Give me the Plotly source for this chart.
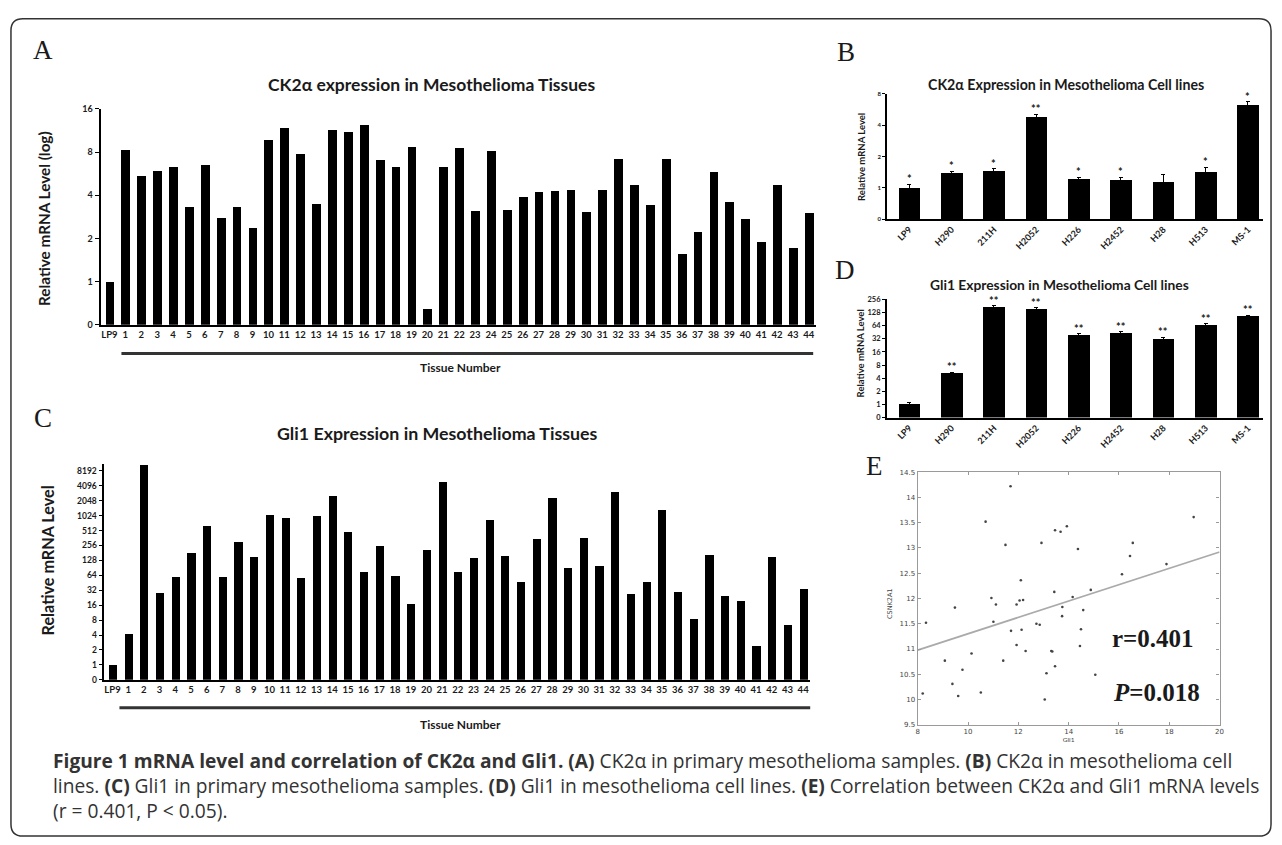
import math
import plotly.graph_objects as go

W, H = 1282, 845

# ---------------- data ----------------
tissue_labels = ["LP9"] + [str(i) for i in range(1, 45)]
ck2a_tissue = [1.0, 8.3, 5.45, 5.9, 6.3, 3.34, 6.55, 2.8, 3.34, 2.37, 9.8, 11.7, 7.8, 3.46,
               11.4, 11.1, 12.3, 7.1, 6.3, 8.75, 0.65, 6.27, 8.6, 3.12, 8.14, 3.15, 3.91,
               4.22, 4.27, 4.38, 3.07, 4.34, 7.12, 4.72, 3.43, 7.15, 1.55, 2.21, 5.79, 3.61,
               2.72, 1.9, 4.72, 1.72, 3.0]
gli1_tissue = [1.0, 4.12, 10500, 27.9, 59.9, 177, 639, 58, 306, 152, 1055, 909, 57, 1010,
               2520, 478, 75, 244, 62.7, 17, 205, 4800, 73, 143, 816, 154, 46, 336, 2300,
               87.6, 357, 97.5, 3080, 26.6, 46, 1330, 28.8, 8.2, 167, 24.6, 19.6, 2.35, 150,
               6.4, 33.4]
a_ticks = [0.5, 1, 2, 4, 8, 16]
a_ticktext = ["0", "1", "2", "4", "8", "16"]
c_ticks = [0.5, 1, 2, 4, 8, 16, 32, 64, 128, 256, 512, 1024, 2048, 4096, 8192]
c_ticktext = ["0", "1", "2", "4", "8", "16", "32", "64", "128", "256", "512", "1024",
              "2048", "4096", "8192"]

cell_lines = ["LP9", "H290", "211H", "H2052", "H226", "H2452", "H28", "H513", "MS-1"]
ck2a_cells = [1.0, 1.40, 1.47, 4.77, 1.22, 1.20, 1.13, 1.43, 6.29]
ck2a_cells_err = [0.08, 0.05, 0.06, 0.35, 0.04, 0.06, 0.22, 0.15, 0.45]
ck2a_cells_sig = ["*", "*", "*", "**", "*", "*", "", "*", "*"]
b_ticks = [0.5, 1, 2, 4, 8]
b_ticktext = ["0", "1", "2", "4", "8"]
gli1_cells = [1.0, 5.03, 171, 152, 37.8, 43.5, 31.8, 63.6, 102]
gli1_cells_err = [0.08, 0.4, 12, 11, 3.5, 3, 2.8, 8, 10]
gli1_cells_sig = ["", "**", "**", "**", "**", "**", "**", "**", "**"]
d_ticks = [0.5, 1, 2, 4, 8, 16, 32, 64, 128, 256]
d_ticktext = ["0", "1", "2", "4", "8", "16", "32", "64", "128", "256"]

gli1_expr = [8.33, 11.69, 10.70, 11.49, 9.48, 10.93, 11.11, 11.01, 12.10, 11.93, 12.05, 12.19,
             11.71, 12.13, 11.93, 12.29, 11.40, 10.14, 9.08, 9.78, 9.38, 12.72, 12.85, 12.92,
             13.46, 13.68, 13.93, 14.37, 13.43, 13.75, 13.74, 14.16, 14.58, 14.88, 14.49,
             14.45, 13.31, 13.35, 13.46, 13.12, 15.06, 16.12, 16.44, 16.55, 17.89, 18.97,
             8.20, 9.61, 10.51, 13.05]
csnk2a1_expr = [11.52, 14.22, 13.52, 13.06, 11.82, 12.01, 11.88, 11.54, 12.36, 11.88, 11.96,
                11.97, 11.36, 11.38, 11.08, 10.96, 10.77, 10.91, 10.77, 10.59, 10.31, 11.50,
                11.48, 13.10, 13.35, 13.32, 13.43, 12.98, 12.13, 11.83, 11.65, 12.03, 11.77,
                12.17, 11.39, 11.06, 10.96, 10.95, 10.66, 10.52, 10.49, 12.48, 12.84, 13.10,
                12.68, 13.61, 10.12, 10.07, 10.14, 10.0]
fit_x = [8, 20]
fit_y = [10.98, 12.92]

# ---------------- helpers ----------------
def px(x):
    return x / W

def py(y):
    return 1 - y / H

SANS = "Lato, 'Open Sans', sans-serif"
SERIF = "'Liberation Serif', 'DejaVu Serif', serif"
INK = "#1a1a1a"

fig = go.Figure()

# Panel A
fig.add_trace(go.Bar(x=tissue_labels, y=ck2a_tissue, marker=dict(color="black", line=dict(width=0)),
                     width=0.55, xaxis="x", yaxis="y", showlegend=False))
# Panel C
fig.add_trace(go.Bar(x=tissue_labels, y=gli1_tissue, marker=dict(color="black", line=dict(width=0)),
                     width=0.52, xaxis="x3", yaxis="y3", showlegend=False))
# Panel B
fig.add_trace(go.Bar(x=cell_lines, y=ck2a_cells, marker=dict(color="black", line=dict(width=0)),
                     width=0.51, xaxis="x2", yaxis="y2", showlegend=False,
                     error_y=dict(type="data", array=ck2a_cells_err, color="black",
                                  thickness=1, width=2)))
# Panel D
fig.add_trace(go.Bar(x=cell_lines, y=gli1_cells, marker=dict(color="black", line=dict(width=0)),
                     width=0.51, xaxis="x4", yaxis="y4", showlegend=False,
                     error_y=dict(type="data", array=gli1_cells_err, color="black",
                                  thickness=1, width=2)))
# Panel E
fig.add_trace(go.Scatter(x=gli1_expr, y=csnk2a1_expr, mode="markers",
                         marker=dict(size=2.6, color="#444"), xaxis="x5", yaxis="y5",
                         showlegend=False))
fig.add_trace(go.Scatter(x=fit_x, y=fit_y, mode="lines", line=dict(color="#aaaaaa", width=1.8),
                         xaxis="x5", yaxis="y5", showlegend=False))

bar_x_common = dict(type="category", showline=True, linecolor="black", ticks="",
                    showgrid=False, zeroline=False)

layout = dict(
    width=W, height=H, margin=dict(l=0, r=0, t=0, b=0),
    paper_bgcolor="white", plot_bgcolor="white", bargap=0,
    font=dict(family=SANS, color=INK),
    xaxis=dict(domain=[px(99), px(818)], range=[-0.56, 44.46], anchor="y", linewidth=1.5,
               tickfont=dict(size=9.5, family=SANS, weight="bold", color=INK), **bar_x_common),
    yaxis=dict(domain=[py(323), py(104.3)], type="log",
               range=[math.log10(0.5), math.log10(16)], anchor="x",
               tickvals=a_ticks, ticktext=a_ticktext, ticks="outside", ticklen=4,
               tickcolor="black", showline=True, linecolor="black", linewidth=2,
               showgrid=False, zeroline=False,
               tickfont=dict(size=9, family=SANS, weight="bold", color=INK)),
    xaxis3=dict(domain=[px(102), px(812)], range=[-0.57, 44.45], anchor="y3", linewidth=1.5,
                tickfont=dict(size=9.5, family=SANS, weight="bold", color=INK), **bar_x_common),
    yaxis3=dict(domain=[py(682.7), py(464.2)], type="log",
                range=[math.log10(0.5), 13.45 * math.log10(2)], anchor="x3",
                tickvals=c_ticks, ticktext=c_ticktext, ticks="outside", ticklen=3,
                tickcolor="black", showline=True, linecolor="black", linewidth=2,
                showgrid=False, zeroline=False,
                tickfont=dict(size=8.5, family=SANS, weight="bold", color=INK)),
    xaxis2=dict(domain=[px(889), px(1266.7)], range=[-0.53, 8.35], anchor="y2", linewidth=1.5,
                tickangle=-45, tickfont=dict(size=9, family=SANS, weight="bold", color=INK),
                **bar_x_common),
    yaxis2=dict(domain=[py(216), py(89)], type="log",
                range=[math.log10(0.5), math.log10(8)], anchor="x2",
                tickvals=b_ticks, ticktext=b_ticktext, ticks="outside", ticklen=3,
                tickcolor="black", showline=True, linecolor="black", linewidth=1.5,
                showgrid=False, zeroline=False,
                tickfont=dict(size=6, family=SANS, weight="bold", color=INK)),
    xaxis4=dict(domain=[px(889), px(1266.7)], range=[-0.53, 8.35], anchor="y4", linewidth=1.5,
                tickangle=-45, tickfont=dict(size=9, family=SANS, weight="bold", color=INK),
                **bar_x_common),
    yaxis4=dict(domain=[py(417), py(297.3)], type="log",
                range=[math.log10(0.5), math.log10(256)], anchor="x4",
                tickvals=d_ticks, ticktext=d_ticktext, ticks="outside", ticklen=3,
                tickcolor="black", showline=True, linecolor="black", linewidth=1.5,
                showgrid=False, zeroline=False,
                tickfont=dict(size=7.5, family=SANS, weight="bold", color=INK)),
    xaxis5=dict(domain=[px(920), px(1223.3)], range=[8, 20], anchor="y5", dtick=2,
                ticks="inside", ticklen=3, tickcolor="#999", mirror="allticks",
                showline=True, linecolor="#9a9a9a", linewidth=1.2, showgrid=False,
                zeroline=False, tickfont=dict(size=7, family="'DejaVu Sans', sans-serif",
                                               color="#444"),
                title=dict(text="Gli1", font=dict(size=6.5, color="#444"), standoff=2)),
    yaxis5=dict(domain=[py(728.3), py(472.3)], range=[9.5, 14.5], anchor="x5", dtick=0.5,
                ticks="inside", ticklen=3, tickcolor="#999", mirror="allticks",
                showline=True, linecolor="#9a9a9a", linewidth=1.2, showgrid=False,
                zeroline=False, tickfont=dict(size=7, family="'DejaVu Sans', sans-serif",
                                               color="#444")),
)
fig.update_layout(**layout)

ann = []

def text(x, y, s, size, family=SANS, weight="bold", color=INK, angle=0, xanchor="center",
         yanchor="middle", align="center"):
    ann.append(dict(x=px(x), y=py(y), xref="paper", yref="paper", text=s, showarrow=False,
                    textangle=angle, xanchor=xanchor, yanchor=yanchor, align=align,
                    font=dict(size=size, family=family, weight=weight, color=color)))

# panel letters
text(41, 45, "A", 27, family=SERIF, weight="normal")
text(848, 47, "B", 27, family=SERIF, weight="normal")
text(41, 417, "C", 27, family=SERIF, weight="normal")
text(847, 267, "D", 27, family=SERIF, weight="normal")
text(877, 466, "E", 27, family=SERIF, weight="normal")

# titles
text(432, 80, "CK2α expression in Mesothelioma Tissues", 17.5)
text(438, 433, "Gli1 Expression in Mesothelioma Tissues", 17.8)
text(1069, 80, "CK2α Expression in Mesothelioma Cell lines", 14.2)
text(1062, 282, "Gli1 Expression in Mesothelioma Cell lines", 13.8)

# axis titles
text(42, 215, "Relative mRNA Level (log)", 15.3, angle=-90)
text(46, 562, "Relative mRNA Level", 16.2, angle=-90)
text(863, 153, "Relative mRNA Level", 9.5, angle=-90)
text(862, 352, "Relative mRNA Level", 9.5, angle=-90)
text(892, 605, "CSNK2A1", 6.5, family="'DejaVu Sans', sans-serif", weight="normal",
     color="#444", angle=-90)

text(461, 366, "Tissue Number", 12)
text(461, 728, "Tissue Number", 12)

# correlation stats
text(1156, 641, "r=0.401", 25, family=SERIF)
text(1160, 696, "<i>P</i>=0.018", 25, family=SERIF)

# significance marks
for cat, v, e, s in zip(cell_lines, ck2a_cells, ck2a_cells_err, ck2a_cells_sig):
    if s:
        ann.append(dict(x=cat, y=math.log10(v + e), xref="x2", yref="y2", text=s,
                        showarrow=False, yanchor="bottom", yshift=-3,
                        font=dict(size=11, family=SANS, weight="bold", color=INK)))
for cat, v, e, s in zip(cell_lines, gli1_cells, gli1_cells_err, gli1_cells_sig):
    if s:
        ann.append(dict(x=cat, y=math.log10(v + e), xref="x4", yref="y4", text=s,
                        showarrow=False, yanchor="bottom", yshift=-3,
                        font=dict(size=11, family=SANS, weight="bold", color=INK)))

# caption (one block, three lines)
CAP = "'Open Sans', 'Noto Sans', sans-serif"
caption = ("<b>Figure 1 mRNA level and correlation of CK2α and Gli1. (A)</b> CK2α in primary "
           "mesothelioma samples. <b>(B)</b> CK2α in mesothelioma cell<br>"
           "lines. <b>(C)</b> Gli1 in primary mesothelioma samples. <b>(D)</b> Gli1 in "
           "mesothelioma cell lines. <b>(E)</b> Correlation between CK2α and Gli1 mRNA levels<br>"
           "(r = 0.401, P &lt; 0.05).")
text(49, 790, caption, 19.2, family=CAP, weight="normal", color="#333", xanchor="left",
     align="left")

fig.update_layout(annotations=ann)

# underline bars below tissue numbers
shapes = [
    dict(type="line", xref="paper", yref="paper", x0=px(120), x1=px(815), y0=py(352), y1=py(352),
         line=dict(color="#333", width=3)),
    dict(type="line", xref="paper", yref="paper", x0=px(118), x1=px(812), y0=py(711), y1=py(711),
         line=dict(color="#333", width=3)),
]

# rounded outer frame
x0, x1, y0, y1, r = 9, 1275, 13, 841, 12
def P(x, y):
    return f"{px(x):.5f},{py(y):.5f}"
path = (f"M {P(x0 + r, y0)} L {P(x1 - r, y0)} Q {P(x1, y0)} {P(x1, y0 + r)} "
        f"L {P(x1, y1 - r)} Q {P(x1, y1)} {P(x1 - r, y1)} L {P(x0 + r, y1)} "
        f"Q {P(x0, y1)} {P(x0, y1 - r)} L {P(x0, y0 + r)} Q {P(x0, y0)} {P(x0 + r, y0)} Z")
shapes.append(dict(type="path", xref="paper", yref="paper", path=path,
                   line=dict(color="#333", width=1.5)))
fig.update_layout(shapes=shapes)

fig.write_html("out.html", config={"displayModeBar": False},
               post_script="document.body.style.margin='0';document.body.style.overflow='hidden';")
